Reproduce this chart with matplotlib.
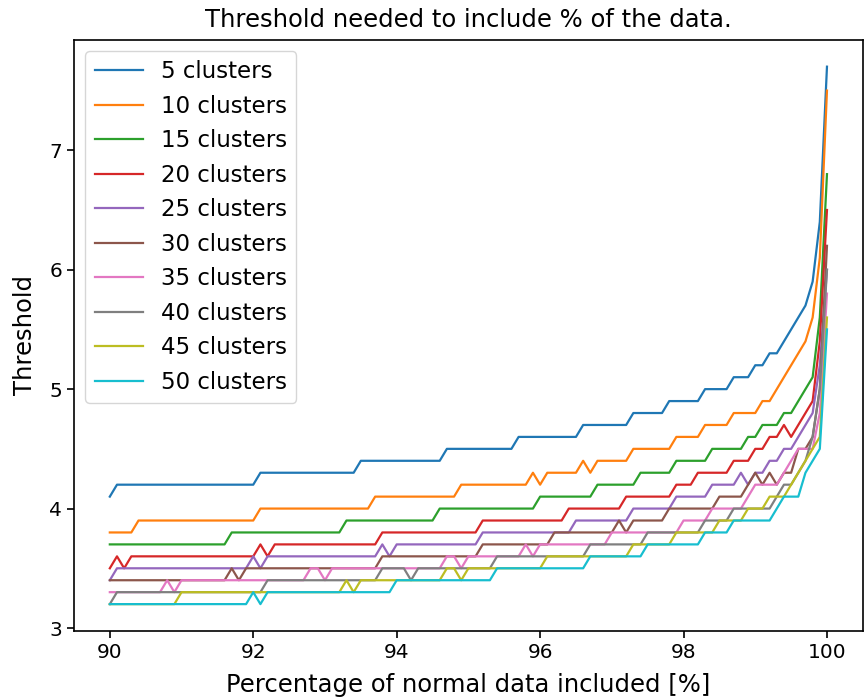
import numpy as np
import matplotlib
matplotlib.use('Agg')
import matplotlib.pyplot as plt

# Percentage of normal data included, in 0.1 % steps
percent = np.linspace(90, 100, 101)

cluster_counts = [5, 10, 15, 20, 25, 30, 35, 40, 45, 50]

thr_5 = [
    4.1, 4.2, 4.2, 4.2, 4.2, 4.2, 4.2, 4.2, 4.2, 4.2,
    4.2, 4.2, 4.2, 4.2, 4.2, 4.2, 4.2, 4.2, 4.2, 4.2,
    4.2, 4.3, 4.3, 4.3, 4.3, 4.3, 4.3, 4.3, 4.3, 4.3,
    4.3, 4.3, 4.3, 4.3, 4.3, 4.4, 4.4, 4.4, 4.4, 4.4,
    4.4, 4.4, 4.4, 4.4, 4.4, 4.4, 4.4, 4.5, 4.5, 4.5,
    4.5, 4.5, 4.5, 4.5, 4.5, 4.5, 4.5, 4.6, 4.6, 4.6,
    4.6, 4.6, 4.6, 4.6, 4.6, 4.6, 4.7, 4.7, 4.7, 4.7,
    4.7, 4.7, 4.7, 4.8, 4.8, 4.8, 4.8, 4.8, 4.9, 4.9,
    4.9, 4.9, 4.9, 5.0, 5.0, 5.0, 5.0, 5.1, 5.1, 5.1,
    5.2, 5.2, 5.3, 5.3, 5.4, 5.5, 5.6, 5.7, 5.9, 6.4,
    7.7]

thr_10 = [
    3.8, 3.8, 3.8, 3.8, 3.9, 3.9, 3.9, 3.9, 3.9, 3.9,
    3.9, 3.9, 3.9, 3.9, 3.9, 3.9, 3.9, 3.9, 3.9, 3.9,
    3.9, 4.0, 4.0, 4.0, 4.0, 4.0, 4.0, 4.0, 4.0, 4.0,
    4.0, 4.0, 4.0, 4.0, 4.0, 4.0, 4.0, 4.1, 4.1, 4.1,
    4.1, 4.1, 4.1, 4.1, 4.1, 4.1, 4.1, 4.1, 4.1, 4.2,
    4.2, 4.2, 4.2, 4.2, 4.2, 4.2, 4.2, 4.2, 4.2, 4.3,
    4.2, 4.3, 4.3, 4.3, 4.3, 4.3, 4.4, 4.3, 4.4, 4.4,
    4.4, 4.4, 4.4, 4.5, 4.5, 4.5, 4.5, 4.5, 4.5, 4.6,
    4.6, 4.6, 4.6, 4.7, 4.7, 4.7, 4.7, 4.8, 4.8, 4.8,
    4.8, 4.9, 4.9, 5.0, 5.1, 5.2, 5.3, 5.4, 5.6, 6.1,
    7.5]

thr_15 = [
    3.7, 3.7, 3.7, 3.7, 3.7, 3.7, 3.7, 3.7, 3.7, 3.7,
    3.7, 3.7, 3.7, 3.7, 3.7, 3.7, 3.7, 3.8, 3.8, 3.8,
    3.8, 3.8, 3.8, 3.8, 3.8, 3.8, 3.8, 3.8, 3.8, 3.8,
    3.8, 3.8, 3.8, 3.9, 3.9, 3.9, 3.9, 3.9, 3.9, 3.9,
    3.9, 3.9, 3.9, 3.9, 3.9, 3.9, 4.0, 4.0, 4.0, 4.0,
    4.0, 4.0, 4.0, 4.0, 4.0, 4.0, 4.0, 4.0, 4.0, 4.0,
    4.1, 4.1, 4.1, 4.1, 4.1, 4.1, 4.1, 4.1, 4.2, 4.2,
    4.2, 4.2, 4.2, 4.2, 4.3, 4.3, 4.3, 4.3, 4.3, 4.4,
    4.4, 4.4, 4.4, 4.4, 4.5, 4.5, 4.5, 4.5, 4.5, 4.6,
    4.6, 4.7, 4.7, 4.7, 4.8, 4.8, 4.9, 5.0, 5.1, 5.6,
    6.8]

thr_20 = [
    3.5, 3.6, 3.5, 3.6, 3.6, 3.6, 3.6, 3.6, 3.6, 3.6,
    3.6, 3.6, 3.6, 3.6, 3.6, 3.6, 3.6, 3.6, 3.6, 3.6,
    3.6, 3.7, 3.6, 3.7, 3.7, 3.7, 3.7, 3.7, 3.7, 3.7,
    3.7, 3.7, 3.7, 3.7, 3.7, 3.7, 3.7, 3.7, 3.8, 3.8,
    3.8, 3.8, 3.8, 3.8, 3.8, 3.8, 3.8, 3.8, 3.8, 3.8,
    3.8, 3.8, 3.9, 3.9, 3.9, 3.9, 3.9, 3.9, 3.9, 3.9,
    3.9, 3.9, 3.9, 3.9, 4.0, 4.0, 4.0, 4.0, 4.0, 4.0,
    4.0, 4.0, 4.1, 4.1, 4.1, 4.1, 4.1, 4.1, 4.1, 4.2,
    4.2, 4.2, 4.3, 4.3, 4.3, 4.3, 4.3, 4.4, 4.4, 4.4,
    4.5, 4.5, 4.6, 4.6, 4.7, 4.6, 4.7, 4.8, 4.9, 5.4,
    6.5]

thr_25 = [
    3.4, 3.5, 3.5, 3.5, 3.5, 3.5, 3.5, 3.5, 3.5, 3.5,
    3.5, 3.5, 3.5, 3.5, 3.5, 3.5, 3.5, 3.5, 3.5, 3.5,
    3.6, 3.5, 3.6, 3.6, 3.6, 3.6, 3.6, 3.6, 3.6, 3.6,
    3.6, 3.6, 3.6, 3.6, 3.6, 3.6, 3.6, 3.6, 3.7, 3.6,
    3.7, 3.7, 3.7, 3.7, 3.7, 3.7, 3.7, 3.7, 3.7, 3.7,
    3.7, 3.7, 3.8, 3.8, 3.8, 3.8, 3.8, 3.8, 3.8, 3.8,
    3.8, 3.8, 3.8, 3.8, 3.8, 3.9, 3.9, 3.9, 3.9, 3.9,
    3.9, 3.9, 3.9, 4.0, 4.0, 4.0, 4.0, 4.0, 4.0, 4.1,
    4.1, 4.1, 4.1, 4.1, 4.2, 4.2, 4.2, 4.2, 4.3, 4.2,
    4.3, 4.3, 4.4, 4.4, 4.5, 4.5, 4.6, 4.7, 4.8, 5.2,
    6.0]

thr_30 = [
    3.4, 3.4, 3.4, 3.4, 3.4, 3.4, 3.4, 3.4, 3.4, 3.4,
    3.4, 3.4, 3.4, 3.4, 3.4, 3.4, 3.4, 3.5, 3.4, 3.5,
    3.5, 3.5, 3.5, 3.5, 3.5, 3.5, 3.5, 3.5, 3.5, 3.5,
    3.5, 3.5, 3.5, 3.5, 3.5, 3.5, 3.5, 3.5, 3.6, 3.6,
    3.6, 3.6, 3.6, 3.6, 3.6, 3.6, 3.6, 3.6, 3.6, 3.6,
    3.6, 3.6, 3.7, 3.7, 3.7, 3.7, 3.7, 3.7, 3.7, 3.7,
    3.7, 3.7, 3.8, 3.8, 3.8, 3.8, 3.8, 3.8, 3.8, 3.8,
    3.8, 3.9, 3.8, 3.9, 3.9, 3.9, 3.9, 3.9, 4.0, 4.0,
    4.0, 4.0, 4.0, 4.0, 4.0, 4.1, 4.1, 4.1, 4.1, 4.2,
    4.3, 4.2, 4.3, 4.2, 4.3, 4.3, 4.5, 4.5, 4.6, 5.0,
    6.2]

thr_35 = [
    3.3, 3.3, 3.3, 3.3, 3.3, 3.3, 3.3, 3.3, 3.4, 3.3,
    3.4, 3.4, 3.4, 3.4, 3.4, 3.4, 3.4, 3.4, 3.4, 3.4,
    3.4, 3.4, 3.4, 3.4, 3.4, 3.4, 3.4, 3.4, 3.5, 3.5,
    3.4, 3.5, 3.5, 3.5, 3.5, 3.5, 3.5, 3.5, 3.5, 3.5,
    3.5, 3.5, 3.5, 3.5, 3.5, 3.5, 3.5, 3.6, 3.6, 3.5,
    3.6, 3.6, 3.6, 3.6, 3.6, 3.6, 3.6, 3.6, 3.7, 3.6,
    3.7, 3.7, 3.7, 3.7, 3.7, 3.7, 3.7, 3.7, 3.7, 3.7,
    3.8, 3.8, 3.8, 3.8, 3.8, 3.8, 3.8, 3.8, 3.8, 3.8,
    3.9, 3.9, 3.9, 3.9, 4.0, 4.0, 4.0, 4.0, 4.0, 4.1,
    4.2, 4.2, 4.2, 4.2, 4.3, 4.4, 4.5, 4.5, 4.5, 4.8,
    5.8]

thr_40 = [
    3.2, 3.3, 3.3, 3.3, 3.3, 3.3, 3.3, 3.3, 3.3, 3.3,
    3.3, 3.3, 3.3, 3.3, 3.3, 3.3, 3.3, 3.3, 3.3, 3.3,
    3.3, 3.3, 3.4, 3.4, 3.4, 3.4, 3.4, 3.4, 3.4, 3.4,
    3.4, 3.4, 3.4, 3.4, 3.4, 3.4, 3.4, 3.4, 3.5, 3.5,
    3.5, 3.5, 3.4, 3.5, 3.5, 3.5, 3.5, 3.5, 3.5, 3.5,
    3.5, 3.5, 3.5, 3.5, 3.6, 3.6, 3.6, 3.6, 3.6, 3.6,
    3.6, 3.6, 3.6, 3.6, 3.6, 3.6, 3.6, 3.7, 3.7, 3.7,
    3.7, 3.7, 3.7, 3.7, 3.7, 3.8, 3.8, 3.8, 3.8, 3.8,
    3.8, 3.8, 3.8, 3.9, 3.9, 3.9, 3.9, 4.0, 4.0, 4.0,
    4.0, 4.0, 4.0, 4.1, 4.2, 4.2, 4.3, 4.4, 4.6, 5.0,
    6.0]

thr_45 = [
    3.2, 3.2, 3.2, 3.2, 3.2, 3.2, 3.2, 3.2, 3.2, 3.2,
    3.3, 3.3, 3.3, 3.3, 3.3, 3.3, 3.3, 3.3, 3.3, 3.3,
    3.3, 3.3, 3.3, 3.3, 3.3, 3.3, 3.3, 3.3, 3.3, 3.3,
    3.3, 3.3, 3.3, 3.4, 3.3, 3.4, 3.4, 3.4, 3.4, 3.4,
    3.4, 3.4, 3.4, 3.4, 3.4, 3.4, 3.4, 3.5, 3.5, 3.4,
    3.5, 3.5, 3.5, 3.5, 3.5, 3.5, 3.5, 3.5, 3.5, 3.5,
    3.5, 3.6, 3.6, 3.6, 3.6, 3.6, 3.6, 3.6, 3.6, 3.6,
    3.6, 3.6, 3.6, 3.7, 3.7, 3.7, 3.7, 3.7, 3.7, 3.8,
    3.8, 3.8, 3.8, 3.8, 3.8, 3.9, 3.9, 3.9, 3.9, 4.0,
    4.0, 4.0, 4.1, 4.1, 4.1, 4.2, 4.3, 4.4, 4.5, 4.6,
    5.6]

thr_50 = [
    3.2, 3.2, 3.2, 3.2, 3.2, 3.2, 3.2, 3.2, 3.2, 3.2,
    3.2, 3.2, 3.2, 3.2, 3.2, 3.2, 3.2, 3.2, 3.2, 3.2,
    3.3, 3.2, 3.3, 3.3, 3.3, 3.3, 3.3, 3.3, 3.3, 3.3,
    3.3, 3.3, 3.3, 3.3, 3.3, 3.3, 3.3, 3.3, 3.3, 3.3,
    3.4, 3.4, 3.4, 3.4, 3.4, 3.4, 3.4, 3.4, 3.4, 3.4,
    3.4, 3.4, 3.4, 3.4, 3.5, 3.5, 3.5, 3.5, 3.5, 3.5,
    3.5, 3.5, 3.5, 3.5, 3.5, 3.5, 3.5, 3.6, 3.6, 3.6,
    3.6, 3.6, 3.6, 3.6, 3.6, 3.7, 3.7, 3.7, 3.7, 3.7,
    3.7, 3.7, 3.7, 3.8, 3.8, 3.8, 3.8, 3.9, 3.9, 3.9,
    3.9, 3.9, 3.9, 4.0, 4.1, 4.1, 4.1, 4.3, 4.4, 4.5,
    5.5]

thresholds = [thr_5, thr_10, thr_15, thr_20, thr_25,
              thr_30, thr_35, thr_40, thr_45, thr_50]

fig = plt.figure(figsize=(8.65, 6.98), dpi=100)
ax = fig.add_axes([0.0855, 0.096, 0.912, 0.847])

for n, thr in zip(cluster_counts, thresholds):
    ax.plot(percent, thr, linewidth=1.6, label=f'{n} clusters')

ax.set_title('Threshold needed to include % of the data.', fontsize=17.5, pad=9)
ax.set_xlabel('Percentage of normal data included [%]', fontsize=17.5, labelpad=8)
ax.set_ylabel('Threshold', fontsize=17.5, labelpad=9)
ax.tick_params(labelsize=14.5, length=5, width=1.2)
for spine in ax.spines.values():
    spine.set_linewidth(1.2)

ax.legend(loc='upper left', fontsize=16.5, handlelength=2.1)

fig.savefig('out.png', dpi=100)
